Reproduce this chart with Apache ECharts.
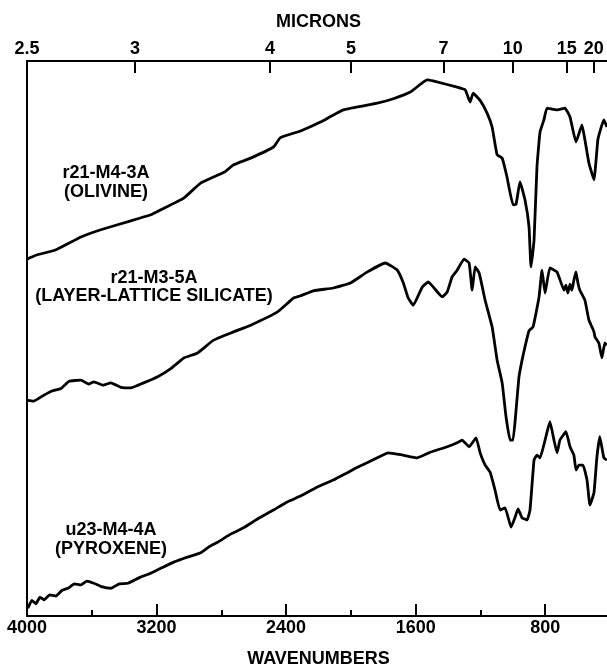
<!DOCTYPE html>
<html>
<head>
<meta charset="utf-8">
<script src="https://cdn.jsdelivr.net/npm/echarts@6/dist/echarts.min.js"></script>
<style>
html,body{margin:0;padding:0;background:#fff;}
#chart{width:607px;height:669px;}
</style>
</head>
<body>
<div id="chart"></div>
<script>
// Wavenumber tick values (bottom axis)
const wnMajorTicks = [4000, 3200, 2400, 1600, 800];
const wnMinorTicks = [3600, 2800, 2000, 1200];
// Micron tick labels (top axis)
const micronTicks = [2.5, 3, 4, 5, 7, 10, 15, 20];

// Olivine spectrum (r21-M4-3A)
const olivineWn = [4000,3945,3821,3667,3544,3359,3236,3174,3032,2928,2780,2724,2619,2478,2435,2311,2188,2046,1837,1738,1633,1529,1492,1344,1294,1264,1245,1202,1159,1128,1097,1066,1036,999,980,956,925,900,888,869,851,832,808,789,727,678,647,610,573,555,530,499,475,456,438,419];
const olivineT  = [64.3,65.0,66.0,68.3,69.6,71.2,72.3,73.2,75.3,78.0,80.0,81.3,82.5,84.5,86.2,87.4,89.0,91.2,92.4,93.2,94.4,96.6,96.4,95.3,94.8,92.6,94.2,92.9,90.6,88.1,83.1,82.5,79.1,74.1,74.2,78.2,75.0,70.1,62.9,67.7,80.9,87.2,89.4,91.5,91.2,91.5,89.9,85.4,88.5,85.8,81.6,78.6,85.8,87.9,89.4,88.1];

// Layer-lattice silicate spectrum (r21-M3-5A)
const layerWn = [4000,3960,3895,3850,3790,3740,3667,3620,3587,3530,3482,3420,3359,3280,3193,3110,3032,2946,2848,2724,2619,2453,2354,2311,2231,2108,2003,1898,1787,1713,1676,1646,1615,1559,1522,1492,1436,1405,1375,1344,1301,1270,1251,1233,1208,1171,1128,1097,1066,1042,1017,999,980,962,943,925,900,875,838,820,801,771,727,684,672,660,647,635,623,610,598,586,555,530,512,499,493,469,450,432,419];
const layerT  = [38.9,38.7,39.8,40.5,41.0,42.3,42.5,41.8,42.2,41.6,42.0,41.2,41.1,42.0,43.1,44.6,46.5,47.4,49.7,51.2,52.4,54.8,57.3,57.7,58.6,59.1,60.0,62.0,63.6,62.3,60.0,57.3,56.0,59.3,60.2,59.3,57.5,58.4,61.1,62.3,64.3,63.6,58.7,62.9,61.8,56.9,52.1,46.1,42.0,35.9,31.7,31.7,37.1,43.1,46.1,48.5,51.4,52.1,57.5,62.3,58.2,62.7,62.0,58.7,59.6,58.2,59.8,58.7,60.5,62.0,60.0,58.7,56.9,53.3,52.1,51.2,50.3,49.2,46.5,49.2,48.8];

// Pyroxene spectrum (u23-M4-4A)
const pyroxWn = [3995,3970,3945,3920,3895,3860,3821,3785,3747,3707,3667,3630,3587,3540,3482,3430,3377,3300,3236,3160,3094,3010,2928,2870,2823,2740,2663,2570,2478,2390,2311,2210,2108,2030,1960,1900,1837,1769,1680,1590,1510,1405,1344,1313,1270,1227,1202,1171,1140,1110,1079,1048,1011,986,968,943,912,894,869,851,832,801,771,746,727,709,672,647,623,610,592,567,542,524,499,481,463,438,419];
const pyroxT  = [1.4,2.8,2.2,3.4,2.9,3.8,3.6,4.6,5.0,5.8,5.6,6.3,5.9,5.3,5.0,5.8,5.9,7.0,7.7,8.8,9.7,10.6,11.4,12.6,13.3,14.8,15.9,17.6,19.1,20.6,21.6,23.2,24.5,25.7,26.8,27.6,28.5,29.4,29.0,28.5,29.5,30.5,31.2,31.7,30.5,32.1,29.4,27.2,25.9,22.7,19.1,19.5,16.0,17.8,19.3,17.7,17.3,19.1,28.1,29.0,28.5,31.7,35.0,31.7,29.4,31.7,33.2,30.5,29.0,26.3,27.2,27.2,24.5,20.0,22.2,28.6,32.3,28.5,28.1];

function pairs(xs, ys) { return xs.map((x, i) => [x, ys[i]]); }

const FONT = '"Liberation Sans", Arial, Helvetica, sans-serif';
const chart = echarts.init(document.getElementById('chart'));

const lineSeries = (data) => ({
  type: 'line',
  xAxisIndex: 0,
  yAxisIndex: 0,
  data: data,
  showSymbol: false,
  smooth: 0.12,
  lineStyle: { color: '#000', width: 2.8 },
  silent: true,
  animation: false
});

const labelFont = { fontFamily: FONT, fontWeight: 'bold', fontSize: 18, color: '#000' };

chart.setOption({
  backgroundColor: '#fff',
  animation: false,
  grid: { left: 27, top: 61, bottom: 53, width: 583, containLabel: false, outerBoundsMode: 'none' },
  xAxis: [
    {
      type: 'value', position: 'bottom', inverse: true, min: 400, max: 4000,
      name: 'WAVENUMBERS', nameLocation: 'middle', nameGap: 34,
      nameTextStyle: labelFont,
      axisLine: { show: true, lineStyle: { color: '#000', width: 2 } },
      axisTick: { show: true, inside: true, length: 12, customValues: wnMajorTicks, lineStyle: { color: '#000', width: 2 } },
      axisLabel: Object.assign({ show: true, customValues: wnMajorTicks, margin: 3, formatter: v => String(v) }, labelFont),
      splitLine: { show: false }
    },
    {
      type: 'value', position: 'bottom', inverse: true, min: 400, max: 4000,
      axisLine: { show: false },
      axisTick: { show: true, inside: true, length: 6, customValues: wnMinorTicks, lineStyle: { color: '#000', width: 2 } },
      axisLabel: { show: false },
      splitLine: { show: false }
    },
    {
      type: 'value', position: 'top', inverse: true, min: 400, max: 4000,
      name: 'MICRONS', nameLocation: 'middle', nameGap: 30,
      nameTextStyle: labelFont,
      axisLine: { show: true, lineStyle: { color: '#000', width: 2 } },
      axisTick: { show: true, inside: true, length: 12, customValues: micronTicks.map(m => 10000 / m), lineStyle: { color: '#000', width: 2 } },
      axisLabel: Object.assign({ show: true, customValues: micronTicks.map(m => 10000 / m), margin: 3,
                   formatter: v => String(Math.round(10000 / v * 10) / 10) }, labelFont),
      splitLine: { show: false }
    }
  ],
  yAxis: {
    type: 'value', min: 0, max: 100,
    axisLine: { show: true, lineStyle: { color: '#000', width: 2 } },
    axisTick: { show: false }, axisLabel: { show: false }, splitLine: { show: false }
  },
  series: [
    lineSeries(pairs(olivineWn, olivineT)),
    lineSeries(pairs(layerWn, layerT)),
    lineSeries(pairs(pyroxWn, pyroxT))
  ],
  graphic: [
    { type: 'text', x: 106, y: 164, style: { text: 'r21-M4-3A\n(OLIVINE)', align: 'center', verticalAlign: 'top', fill: '#000', font: 'bold 18px ' + FONT, lineHeight: 19 } },
    { type: 'text', x: 154, y: 269, style: { text: 'r21-M3-5A\n(LAYER-LATTICE SILICATE)', align: 'center', verticalAlign: 'top', fill: '#000', font: 'bold 18px ' + FONT, lineHeight: 18 } },
    { type: 'text', x: 111, y: 521, style: { text: 'u23-M4-4A\n(PYROXENE)', align: 'center', verticalAlign: 'top', fill: '#000', font: 'bold 18px ' + FONT, lineHeight: 19 } }
  ]
});
</script>
</body>
</html>
